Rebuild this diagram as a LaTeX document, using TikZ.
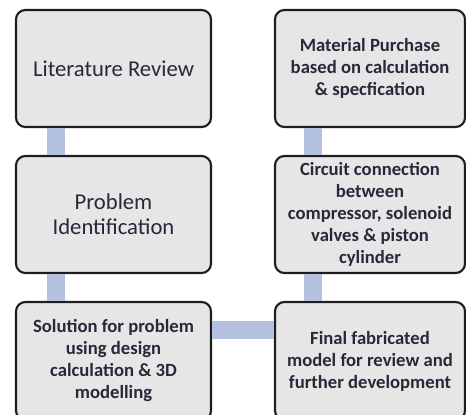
\documentclass[tikz,border=0pt]{standalone}
\usepackage{fontspec}
\setmainfont{Carlito}
\definecolor{boxfill}{RGB}{230,230,230}
\definecolor{boxline}{RGB}{30,30,30}
\definecolor{conncol}{RGB}{180,192,224}
\definecolor{txt}{RGB}{42,40,56}
\begin{document}
\begin{tikzpicture}[x=0.75pt,y=-0.75pt,
  box/.style={draw=boxline, fill=boxfill, line width=1.6pt, rounded corners=7pt,
    align=center, text=txt, inner sep=0pt},
  big/.style={font=\fontsize{17}{18.5}\selectfont},
  small/.style={font=\fontsize{14}{16.5}\selectfont\bfseries},
  conn/.style={draw=conncol, line width=13.5pt}]
\useasboundingbox (0,0) rectangle (466,414);
\node[box,big,minimum width=146.25pt,minimum height=87.75pt] (lit) at (113.5,68.5) {Literature Review};
\node[box,big,minimum width=146.25pt,minimum height=87.75pt] (prob) at (113.5,214.5) {Problem\\Identification};
\node[box,small,minimum width=146.25pt,minimum height=88.5pt] (sol) at (113.5,361) {Solution for problem\\using design\\calculation \& 3D\\modelling};
\node[box,small,minimum width=142.5pt,minimum height=87.75pt] (mat) at (370,68.5) {Material Purchase\\based on calculation\\\& specfication};
\node[box,small,minimum width=142.5pt,minimum height=87.75pt] (circ) at (370,214.5) {Circuit connection\\between\\compressor, solenoid\\valves \& piston\\cylinder};
\node[box,small,minimum width=142.5pt,minimum height=88.5pt] (fin) at (370,361) {Final fabricated\\model for review and\\further development};
\draw[conn] ([xshift=30.75pt]lit.south west) -- ([xshift=30.75pt]prob.north west);
\draw[conn] ([xshift=30.75pt]prob.south west) -- ([xshift=30.75pt]sol.north west);
\draw[conn] ([xshift=29.25pt]mat.south west) -- ([xshift=29.25pt]circ.north west);
\draw[conn] ([xshift=29.25pt]circ.south west) -- ([xshift=29.25pt]fin.north west);
\draw[conn] ([yshift=-21.75pt]sol.north east) -- ([yshift=-21.75pt]fin.north west);
\end{tikzpicture}
\end{document}
